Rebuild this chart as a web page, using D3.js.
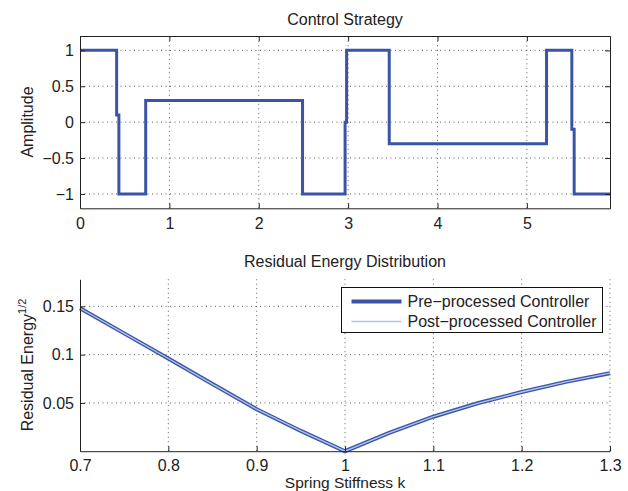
<!DOCTYPE html>
<html lang="en">
<head>
    <meta charset="UTF-8">
    <title>Control Strategy</title>
    <script src="https://d3js.org/d3.v7.min.js"></script>
</head>
<style>
    body {
        margin: 0;
        background: white;
    }
    svg text {
        font-family: "Liberation Sans", Arial, sans-serif;
        fill: #222;
    }
</style>
<body>
    <div id="chart"></div>
</body>
<script>
    // top panel: piecewise constant control signal (switch time, level after switch)
    const switchTimes = [0, 0.41, 0.435, 0.735, 2.49, 2.966, 2.983, 3.46, 5.22, 5.503, 5.529, 5.93]
    const switchLevels = [1, 0.1, -1, 0.3, -1, 0, 1, -0.3, 1, -0.1, -1, -1]
    const topXTicks = [0, 1, 2, 3, 4, 5]
    const topYTicks = [-1, -0.5, 0, 0.5, 1]
    const topYLabels = ["\u22121", "\u22120.5", "0", "0.5", "1"]

    // bottom panel: residual energy vs spring stiffness
    const stiffness = [0.7, 0.75, 0.8, 0.85, 0.9, 0.95, 1.0, 1.05, 1.1, 1.15, 1.2, 1.25, 1.3]
    const preEnergy = [0.148, 0.122, 0.096, 0.0695, 0.0435, 0.021, 0.0, 0.019, 0.0357, 0.0496, 0.0613, 0.0718, 0.0808]
    const postEnergy = [0.148, 0.122, 0.096, 0.0695, 0.0435, 0.021, 0.0, 0.019, 0.0357, 0.0496, 0.0613, 0.0718, 0.0808]
    const botXTicks = [0.7, 0.8, 0.9, 1, 1.1, 1.2, 1.3]
    const botYTicks = [0.05, 0.1, 0.15]
    const seriesNames = ["Pre\u2212processed Controller", "Post\u2212processed Controller"]

    const W = 628, H = 491
    const dark = "#3a55a6", light = "#b3c3ec"
    const fontSize = "16px"

    const svg = d3.select("#chart").append("svg")
        .attr("width", W)
        .attr("height", H)

    const left = 80, right = 610

    const grid = (g, xs, ys, x, y) => {
        g.append("g").selectAll("line").data(xs).join("line")
            .attr("x1", d => x(d)).attr("x2", d => x(d))
            .attr("y1", y.range()[0]).attr("y2", y.range()[1])
        g.append("g").selectAll("line").data(ys).join("line")
            .attr("y1", d => y(d)).attr("y2", d => y(d))
            .attr("x1", x.range()[0]).attr("x2", x.range()[1])
        g.selectAll("line")
            .attr("stroke", "#333")
            .attr("stroke-width", 0.8)
            .attr("stroke-dasharray", "1,3.5")
    }

    const styleAxis = g => {
        g.select(".domain").attr("stroke", "#222")
        g.selectAll(".tick line").attr("stroke", "#222")
        g.selectAll("text").attr("font-size", fontSize).attr("font-family", null)
    }

    // ---------- top panel ----------
    const x1 = d3.scaleLinear().domain([0, 5.93]).range([left, right])
    const y1 = d3.scaleLinear().domain([-1.2, 1.2]).range([208.3, 36])
    const topPanel = svg.append("g")

    grid(topPanel, topXTicks.slice(1), topYTicks, x1, y1)

    topPanel.append("path")
        .datum(switchTimes.map((t, i) => [t, switchLevels[i]]))
        .attr("fill", "none")
        .attr("stroke", dark)
        .attr("stroke-width", 3)
        .attr("d", d3.line().x(d => x1(d[0])).y(d => y1(d[1])).curve(d3.curveStepAfter))

    topPanel.append("g")
        .attr("transform", `translate(0,${y1.range()[0]})`)
        .call(d3.axisBottom(x1).tickValues(topXTicks).tickFormat(d3.format("d"))
            .tickSizeInner(-5).tickSizeOuter(0).tickPadding(9))
        .call(styleAxis)
    topPanel.append("g")
        .attr("transform", `translate(0,${y1.range()[1]})`)
        .call(d3.axisTop(x1).tickValues(topXTicks).tickFormat("")
            .tickSizeInner(-5).tickSizeOuter(0))
        .call(styleAxis)
    topPanel.append("g")
        .attr("transform", `translate(${left},0)`)
        .call(d3.axisLeft(y1).tickValues(topYTicks).tickFormat((d, i) => topYLabels[i])
            .tickSizeInner(-5).tickSizeOuter(0).tickPadding(6))
        .call(styleAxis)
    topPanel.append("g")
        .attr("transform", `translate(${right},0)`)
        .call(d3.axisRight(y1).tickValues(topYTicks).tickFormat("")
            .tickSizeInner(-5).tickSizeOuter(0))
        .call(styleAxis)

    svg.append("text")
        .attr("x", (left + right) / 2).attr("y", 25)
        .attr("text-anchor", "middle")
        .attr("font-size", fontSize)
        .text("Control Strategy")
    svg.append("text")
        .attr("transform", `translate(27,122) rotate(-90)`)
        .attr("text-anchor", "middle")
        .attr("dy", "0.35em")
        .attr("font-size", fontSize)
        .text("Amplitude")

    // ---------- bottom panel ----------
    const x2 = d3.scaleLinear().domain([0.7, 1.3]).range([left, right])
    const y2 = d3.scaleLinear().domain([0, 0.178]).range([451.2, 279.3])
    const botPanel = svg.append("g")

    grid(botPanel, botXTicks.slice(1), botYTicks, x2, y2)

    const line2 = d3.line().x(d => x2(d[0])).y(d => y2(d[1]))
    botPanel.append("path")
        .datum(stiffness.map((k, i) => [k, preEnergy[i]]))
        .attr("fill", "none")
        .attr("stroke", dark)
        .attr("stroke-width", 4)
        .attr("d", line2)
    botPanel.append("path")
        .datum(stiffness.map((k, i) => [k, postEnergy[i]]))
        .attr("fill", "none")
        .attr("stroke", light)
        .attr("stroke-width", 1.3)
        .attr("d", line2)

    botPanel.append("g")
        .attr("transform", `translate(0,${y2.range()[0]})`)
        .call(d3.axisBottom(x2).tickValues(botXTicks).tickFormat(d3.format("~g"))
            .tickSizeInner(-5).tickSizeOuter(0).tickPadding(8))
        .call(styleAxis)
    botPanel.append("g")
        .attr("transform", `translate(${left},0)`)
        .call(d3.axisLeft(y2).tickValues(botYTicks).tickFormat(d3.format("~g"))
            .tickSizeInner(-5).tickSizeOuter(0).tickPadding(6))
        .call(styleAxis)

    svg.append("text")
        .attr("x", (left + right) / 2).attr("y", 267)
        .attr("text-anchor", "middle")
        .attr("font-size", fontSize)
        .text("Residual Energy Distribution")
    const ylab = svg.append("text")
        .attr("transform", `translate(27,365) rotate(-90)`)
        .attr("text-anchor", "middle")
        .attr("dy", "0.35em")
        .attr("font-size", fontSize)
    ylab.append("tspan").text("Residual Energy")
    ylab.append("tspan").attr("dy", -7).attr("font-size", "11px").text("1/2")
    svg.append("text")
        .attr("x", (left + right) / 2).attr("y", 488)
        .attr("text-anchor", "middle")
        .attr("font-size", "15.5px")
        .text("Spring Stiffness k")

    // legend
    const lg = svg.append("g").attr("transform", "translate(341.5,287.5)")
    lg.append("rect")
        .attr("width", 261).attr("height", 45)
        .attr("fill", "white")
        .attr("stroke", "#111")
        .attr("stroke-width", 1)
    const rows = lg.selectAll("g.row").data(seriesNames).join("g")
        .attr("class", "row")
        .attr("transform", (d, i) => `translate(0,${14 + i * 20})`)
    rows.append("line")
        .attr("x1", 10).attr("x2", 60)
        .attr("stroke", (d, i) => i === 0 ? dark : light)
        .attr("stroke-width", (d, i) => i === 0 ? 4 : 1.5)
    rows.append("text")
        .attr("x", 66)
        .attr("dy", "0.35em")
        .attr("font-size", fontSize)
        .text(d => d)
</script>
</html>
